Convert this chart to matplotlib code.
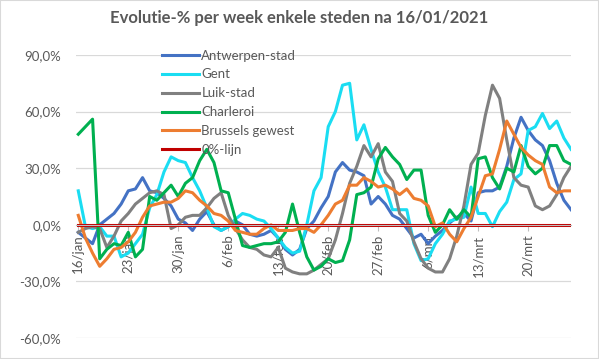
import matplotlib.pyplot as plt
import pandas as pd
from matplotlib.patches import Rectangle

plt.rcParams['font.family'] = ['Lato', 'DejaVu Sans']

# dagen 16/01/2021 .. 26/03/2021
dates = pd.date_range('2021-01-16', '2021-03-26')

antwerpen = [-4, -7, -10, 0, 3, 6, 11, 18, 19, 25, 18, 17, 14, 10, 3, 1, -3, 3, 7, 0,
             -3, -1, 2, 0, -5, -6, -5, -3, -7, -13, -16, -13, -2, 2, 9, 15, 28, 33, 29, 28,
             26, 11, 15, 11, 5, 3, -2, -7, -5, -10, -6, -3, 1, 4, 6, 2, 17, 18, 18, 20,
             31, 46, 57, 50, 45, 42, 34, 22, 13, 8]
gent = [18, -1, -2, -1, -6, -6, -17, -15, -10, -5, 9, 16, 28, 36, 34, 33, 25, 18, 9, -1,
        -3, -1, 3, 6, 5, 3, 2, -2, -7, -12, -15, -14, 0, 18, 25, 52, 60, 74, 75, 45,
        53, 40, 28, 20, 8, 8, 8, -10, -19, -18, -10, -5, 2, 3, 4, 20, 6, 6, -1, 7,
        12, 24, 27, 50, 52, 59, 51, 55, 46, 40]
luik = [-4, -2, -1, -2, -12, -6, 2, 6, 11, 14, 17, 18, 16, -2, 0, 4, 5, 5, 9, 14,
        17, 5, -2, -8, -12, -13, -16, -17, -12, -23, -25, -26, -26, -24, -21, -18, -8, 6, 22, 31,
        42, 36, 43, 28, 23, 6, 2, -9, -18, -23, -25, -25, -18, -6, 10, 32, 38, 58, 74, 67,
        45, 25, 21, 20, 10, 8, 10, 16, 25, 31]
charleroi = [48, 52, 56, -18, -13, -10, -11, -4, -17, -13, 15, 13, 17, 21, 15, 22, 25, 34, 40, 33,
             18, 17, 3, -11, -12, -11, -10, -10, -9, -4, 11, -4, -17, -24, -22, -18, -20, -19, -8, 16,
             17, 20, 35, 41, 36, 32, 24, 29, 29, 5, -4, 0, 8, 3, 8, 4, 35, 36, 25, 19,
             30, 28, 42, 31, 27, 30, 42, 42, 34, 32]
brussel = [5, -7, -15, -22, -18, -13, -12, -9, -4, 4, 10, 11, 12, 12, 14, 18, 17, 13, 10, 6,
           5, 2, -3, -4, -5, -5, -2, 0, -3, -3, -3, -2, -2, -4, 0, 5, 11, 13, 21, 21,
           25, 23, 20, 21, 19, 16, 19, 14, 13, 10, -1, 1, -5, -9, -2, 4, 15, 26, 27, 40,
           55, 48, 41, 37, 34, 32, 20, 17, 18, 18]
nul_lijn = [0] * len(dates)

series = ['Antwerpen-stad', 'Gent', 'Luik-stad', 'Charleroi', 'Brussels gewest', '0%-lijn']
colors = ['#4472C4', '#1ADDF2', '#808080', '#00B050', '#ED7D31', '#C00000']

tick_dates = pd.date_range('2021-01-16', periods=10, freq='7D')
tick_labels = ['16/jan', '23/jan', '30/jan', '6/feb', '13/feb', '20/feb', '27/feb',
               '6/mrt', '13/mrt', '20/mrt']
y_ticks = [-60, -30, 0, 30, 60, 90]
y_labels = ['-60,0%', '-30,0%', '0,0%', '30,0%', '60,0%', '90,0%']

fig = plt.figure(figsize=(5.99, 3.59), dpi=100)
ax = fig.add_axes([0.1277, 0.0585, 0.8256, 0.7883])

for vals, name, c in zip([antwerpen, gent, luik, charleroi, brussel, nul_lijn], series, colors):
    ax.plot(dates, vals, color=c, lw=2.2, label=name, solid_joinstyle='round')

ax.set_ylim(-60, 90)
ax.set_xlim(pd.Timestamp('2021-01-15 18:00'), pd.Timestamp('2021-03-26'))
ax.set_yticks(y_ticks)
ax.set_yticklabels(y_labels)
ax.set_xticks(tick_dates)
ax.set_xticklabels(tick_labels)
ax.grid(axis='y', color='#D9D9D9', lw=0.9)
ax.set_axisbelow(True)

for s in ['top', 'right', 'left']:
    ax.spines[s].set_visible(False)
ax.spines['bottom'].set_position(('data', 0))
ax.spines['bottom'].set_color('#BFBFBF')
ax.tick_params(axis='y', length=0, pad=11, labelsize=9.5, labelcolor='#595959')
ax.tick_params(axis='x', length=4, color='#BFBFBF', pad=3, labelsize=9.5,
               labelcolor='#595959', labelrotation=90)

fig.text(0.5, 1 - 18 / 359, 'Evolutie-% per week enkele steden na 16/01/2021',
         ha='center', va='center', fontsize=12, fontweight='bold', color='#595959')

ax.legend(loc='upper left', bbox_to_anchor=(0.27, 0.862), bbox_transform=fig.transFigure,
          frameon=False, borderpad=0, borderaxespad=0, handlelength=2.8, handletextpad=0.2,
          labelspacing=0.52, fontsize=9.5, labelcolor='#595959')

fig.patches.append(Rectangle((0, 0), 1, 1, transform=fig.transFigure, fill=False,
                             edgecolor='#D9D9D9', lw=1.5))

plt.savefig('out.png', dpi=100)
